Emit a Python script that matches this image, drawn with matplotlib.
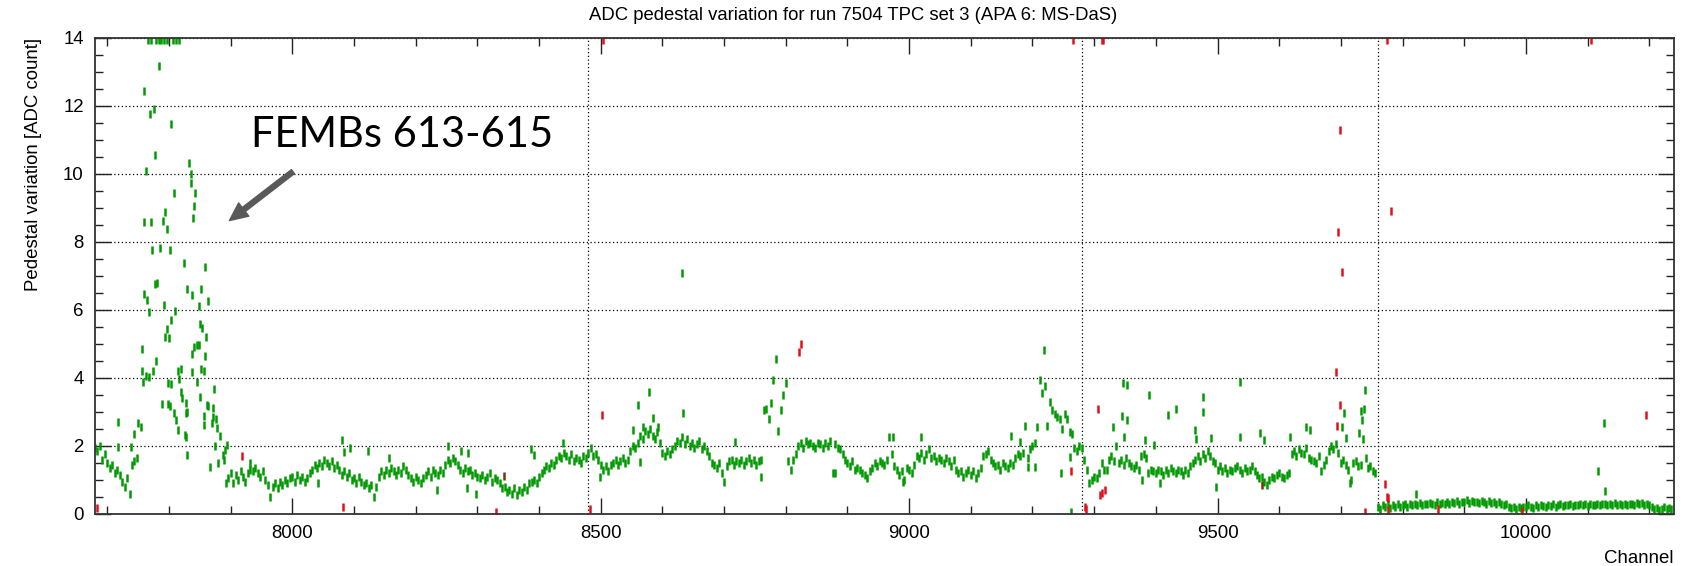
import numpy as np
import matplotlib.pyplot as plt
from matplotlib.ticker import MultipleLocator

# ---- data (pedestal variation per channel) ----
# regular band, one value every 4 channels
band_a_start = 7680
band_a = [1.95, 1.85, 2.0, 1.6, 1.75, 1.5, 1.35, 1.45, 1.2, 1.3,
          1.15, 0.95, 0.8, 1.05, 0.6, 1.45, 1.55, 1.65]

band_b_start = 7896
band_b = [1.05, 1.2, 0.9, 1.15, 1.0, 1.25, 1.1, 0.95, 1.2, 1.3,
          1.25, 1.35, 1.2, 1.1, 1.25, 1.0, 0.85, 0.5, 0.8, 0.9,
          0.75, 0.95, 0.85, 1.0, 0.9, 1.05, 1.1, 0.95, 1.15, 1.0,
          1.1, 0.95, 1.05, 1.2, 1.3, 1.45, 1.35, 1.5, 1.4, 1.6,
          1.5, 1.4, 1.55, 1.35, 1.45, 1.3, 1.15, 1.25, 1.1, 1.2,
          1.0, 1.05, 0.9, 1.1, 0.95, 0.85, 0.9, 0.75, 0.85, 0.5,
          0.8, 1.1, 1.25, 1.15, 1.3, 1.2, 1.35, 1.25, 1.15, 1.3,
          1.2, 1.4, 1.3, 1.15, 1.05, 0.95, 1.1, 1.0, 0.9, 1.05,
          1.15, 1.25, 1.1, 1.3, 1.2, 1.15, 1.3, 1.2, 1.45, 1.6,
          1.5, 1.65, 1.55, 1.45, 1.3, 1.2, 1.35, 1.25, 1.3, 1.15,
          1.2, 1.1, 1.05, 1.15, 1.0, 1.1, 1.2, 0.95, 1.05, 1.0,
          0.9, 0.75, 0.8, 0.65, 0.7, 0.6, 0.75, 0.55, 0.7, 0.65,
          0.8, 0.7, 0.9, 0.95, 1.0, 0.9, 1.1, 1.2, 1.3, 1.4,
          1.35, 1.5, 1.45, 1.6, 1.7, 1.65, 1.8, 1.7, 1.6, 1.75,
          1.55, 1.65, 1.6, 1.5, 1.7, 1.65]

v_start = 8480
v_band = [1.8, 1.95, 1.7, 1.75, 1.6, 1.45, 1.3, 1.4, 1.25, 1.45,
          1.5, 1.6, 1.45, 1.55, 1.65, 1.5, 1.6, 1.85, 2.0, 1.95,
          2.1, 2.3, 2.2, 2.45, 2.35, 2.5, 2.3, 2.2, 2.4, 2.1,
          1.8, 1.7, 1.85, 1.75, 1.9, 2.0, 2.15, 2.1, 2.25, 2.05,
          2.2, 2.0, 2.1, 1.95, 2.05, 2.15, 1.9, 2.0, 1.85, 1.7,
          1.5, 1.45, 1.35, 1.5, 1.2, 0.95, 1.4, 1.55, 1.6, 1.45,
          1.55, 1.5, 1.6, 1.45, 1.55, 1.65, 1.5, 1.6, 1.45, 1.55,
          1.6, 3.05, 3.1, 2.8, 3.25, 3.95, 4.55, 2.45, 3.05, 3.5,
          3.85, 1.55, 1.3, 1.6, 1.75, 2.0, 2.1, 1.95, 2.15, 2.05,
          2.1, 2.0, 1.95, 2.1, 2.05, 1.95, 2.1, 2.0, 2.15, 1.2,
          2.05, 1.95, 1.9, 1.75, 1.6, 1.5, 1.4, 1.55, 1.3, 1.35,
          1.3, 1.2, 1.15, 1.05, 1.25, 1.35, 1.5, 1.4, 1.55, 1.5,
          1.45, 1.6, 2.25, 1.75, 1.4, 1.3, 1.15, 1.25, 1.0, 1.35,
          1.3, 1.2, 1.45, 1.7, 1.65, 1.8, 1.6, 1.75, 1.9, 1.65,
          1.7, 1.55, 1.65, 1.6, 1.5, 1.65, 1.55, 1.4, 1.6, 1.3,
          1.2, 1.25, 1.1, 1.2, 1.3, 1.15, 1.25, 1.05, 1.2, 1.35,
          1.7, 1.75, 1.85, 1.6, 1.5, 1.4, 1.45, 1.3, 1.5, 1.4,
          1.35, 1.5, 1.45, 1.65, 1.75, 1.7, 1.8, 2.6, 1.65, 1.9,
          2.0, 2.1, 2.55, 3.95, 3.55, 3.75, 2.6, 3.3, 3.05, 2.95,
          2.85, 2.8, 2.5, 2.95, 2.8, 2.4, 2.35, 1.95, 1.85, 2.0]

x1_start = 9280
x1_band = [1.95, 1.6, 1.3, 0.9, 1.0, 1.1, 1.05, 1.2, 1.5, 1.3,
           1.3, 1.6, 1.7, 1.55, 2.0, 1.5, 1.6, 1.45, 1.65, 1.5,
           1.4, 1.35, 1.45, 1.3, 1.7, 1.75, 1.65, 1.2, 1.3, 1.25,
           1.2, 1.3, 1.25, 1.15, 1.3, 1.2, 1.35, 1.25, 1.2, 1.3,
           1.25, 1.15, 1.3, 1.2, 1.4, 1.5, 1.6, 1.7, 1.55, 1.75,
           1.65, 1.85, 1.7, 1.55, 1.5, 1.3, 1.4, 1.25, 1.35, 1.2,
           1.3, 1.25, 1.35, 1.4, 1.3, 1.2, 1.35, 1.25, 1.3, 1.4,
           1.25, 1.15, 1.05, 1.1, 0.95, 0.85, 1.0, 1.1, 1.05, 1.15,
           1.2, 1.1, 1.05, 1.15, 1.2, 1.75, 1.85, 1.7, 1.9, 1.8,
           1.75, 1.95, 1.65, 1.6, 1.55, 1.5, 1.7, 1.25, 1.45, 1.6,
           1.85, 2.0, 1.9, 2.05, 1.8, 1.5, 1.6, 1.45, 1.3, 1.0,
           1.5, 1.55, 1.4, 1.45, 2.2, 1.65, 1.35, 1.4, 1.25, 1.2]

x2_start = 9760
x2_band = [0.2, 0.15, 0.25, 0.2, 0.3, 0.18, 0.25, 0.22, 0.28, 0.2,
           0.25, 0.3, 0.22, 0.28, 0.25, 0.3, 0.27, 0.32, 0.25, 0.3,
           0.28, 0.33, 0.3, 0.25, 0.35, 0.3, 0.32, 0.28, 0.36, 0.3,
           0.35, 0.32, 0.38, 0.3, 0.36, 0.34, 0.4, 0.33, 0.37, 0.35,
           0.36, 0.32, 0.38, 0.35, 0.3, 0.37, 0.33, 0.36, 0.3, 0.34,
           0.3, 0.25, 0.28, 0.22, 0.18, 0.2, 0.15, 0.2, 0.17, 0.22,
           0.2, 0.25, 0.22, 0.18, 0.25, 0.2, 0.27, 0.23, 0.2, 0.26,
           0.24, 0.28, 0.22, 0.26, 0.3, 0.24, 0.27, 0.25, 0.29, 0.23,
           0.27, 0.25, 0.3, 0.26, 0.28, 0.24, 0.3, 0.27, 0.25, 0.29,
           0.26, 0.3, 0.28, 0.25, 0.3, 0.27, 0.32, 0.26, 0.29, 0.27,
           0.3, 0.25, 0.28, 0.3, 0.26, 0.31, 0.28, 0.33, 0.27, 0.3,
           0.25, 0.22, 0.15, 0.18, 0.12, 0.16, 0.2, 0.14, 0.17, 0.15]

# noisy FEMBs 613-615 region
femb_ch = [7766, 7771, 7779, 7783, 7787, 7792, 7797, 7806, 7811, 7817,
           7783, 7759, 7776, 7769, 7803, 7778, 7763, 7833, 7835, 7836,
           7842, 7808, 7841, 7794, 7839, 7760, 7771, 7790, 7797, 7773,
           7785, 7801, 7824, 7859,
           7760, 7765, 7767, 7778, 7780, 7792, 7809, 7803, 7796, 7794,
           7800, 7829, 7838, 7852, 7849, 7863, 7851, 7854, 7860, 7841,
           7846, 7848, 7838, 7858, 7756, 7757, 7758, 7763, 7767, 7774,
           7779, 7799, 7804, 7814, 7820, 7817, 7837, 7846, 7852, 7856,
           7873, 7788, 7799, 7802, 7808, 7811, 7815, 7820, 7821, 7827,
           7828, 7830, 7826, 7828, 7829, 7850, 7856, 7857, 7862, 7864,
           7871, 7872, 7869, 7878, 7877, 7882, 7874, 7866, 7880, 7888,
           7889, 7894, 7890, 7892]
femb_val = [13.95, 13.95, 13.95, 13.95, 13.95, 13.95, 13.95, 13.95, 13.95, 13.95,
            13.19, 12.44, 11.9, 11.75, 11.46, 10.56, 10.1, 10.31, 10.0, 9.74,
            9.45, 9.45, 9.06, 8.88, 8.72, 8.59, 8.59, 8.63, 8.37, 7.76,
            7.83, 7.76, 7.37, 7.26,
            6.46, 6.3, 5.94, 6.75, 6.79, 6.14, 5.97, 5.72, 5.45, 5.21,
            5.18, 6.61, 6.43, 6.61, 6.11, 6.26, 5.6, 5.48, 5.21, 4.9,
            4.96, 4.96, 4.7, 4.64, 4.86, 4.21, 3.89, 4.06, 4.02, 4.21,
            4.51, 3.84, 3.82, 4.2, 4.26, 3.96, 4.18, 3.89, 4.26, 4.21,
            3.67, 3.24, 3.24, 3.18, 2.98, 2.77, 2.47, 3.6, 3.4, 3.26,
            2.96, 3.01, 2.33, 2.26, 1.74, 3.43, 2.89, 2.62, 3.21, 3.18,
            3.11, 2.86, 2.67, 2.52, 2.79, 2.3, 2.01, 1.37, 1.5, 1.74,
            1.59, 2.03, 1.87, 0.9]

# isolated green channels
extra_ch = [7717, 7718, 7739, 7744, 7749, 7754, 7932, 8042, 8080, 8083,
            8094, 8123, 8156, 8234, 8253, 8274, 8283, 8284, 8297, 8387,
            8392, 8438, 8499, 8553, 8561, 8563, 8569, 8579, 8585, 8593,
            8632, 8633, 8718, 8760, 8880, 8974, 8990, 9020, 9165, 9180,
            9193, 9204, 9219, 9246, 9261, 9262, 9330, 9345, 9346, 9348,
            9353, 9354, 9377, 9382, 9389, 9397, 9407, 9420, 9433, 9463,
            9465, 9477, 9477, 9490, 9497, 9536, 9536, 9569, 9575, 9617,
            9643, 9650, 9701, 9705, 9709, 9715, 9730, 9732, 9734, 9738,
            9739, 9821, 10117, 10127, 10129]
extra_val = [2.72, 1.96, 1.96, 2.36, 2.67, 2.57, 1.5, 0.91, 2.18, 1.83,
             1.93, 1.85, 1.64, 0.7, 2.0, 1.85, 0.75, 1.78, 0.6, 1.9,
             1.73, 2.1, 1.1, 2.47, 3.2, 1.54, 2.57, 3.6, 2.81, 2.57,
             7.09, 2.98, 2.13, 1.1, 1.2, 2.27, 0.95, 2.27, 2.29, 2.13,
             1.39, 1.39, 4.82, 1.22, 1.69, 0.07, 2.57, 2.88, 3.84, 2.27,
             2.76, 3.79, 1.0, 2.18, 3.5, 2.03, 0.9, 2.9, 3.1, 2.47,
             2.2, 3.45, 3.0, 2.23, 0.8, 3.89, 2.27, 2.37, 2.18, 2.27,
             2.57, 2.47, 2.57, 2.96, 2.23, 0.9, 2.37, 3.04, 2.75, 3.1,
             3.65, 0.6, 1.27, 2.67, 0.69]

# red channels
red_ch = [7684, 7919, 8082, 8330, 8482, 8502, 8504, 8822, 8824, 9263,
          9266, 9285, 9286, 9307, 9309, 9313, 9317, 9312, 9315, 9692,
          9694, 9699, 9696, 9698, 9701, 9739, 9772, 9774, 9777, 9776,
          9775, 9782, 9858, 9994, 10105, 10194]
red_val = [0.17, 1.71, 0.2, 0.07, 0.14, 2.91, 13.95, 4.75, 5.0, 1.25,
           13.95, 0.2, 0.15, 3.1, 0.56, 0.63, 0.71, 13.95, 13.95, 4.17,
           2.59, 3.2, 8.3, 11.29, 7.13, 0.07, 0.88, 0.51, 0.46, 0.12,
           13.95, 8.91, 0.14, 0.09, 13.95, 2.92]

# dark (overlapping) channels
dark_ch = [8343, 9572]
dark_val = [1.12, 0.85]

plane_edges = [8480, 9280, 9760]

# ---- figure ----
plt.rcParams['font.family'] = ['Liberation Sans', 'DejaVu Sans']
fig = plt.figure(figsize=(16.96, 5.66), dpi=100)
ax = fig.add_axes([0.0560, 0.0919, 0.9310, 0.8410])

green = '#009a00'
mk = dict(linestyle='none', marker='|', markersize=6.2, markeredgewidth=1.8)

for start, vals in [(band_a_start, band_a), (band_b_start, band_b),
                    (v_start, v_band), (x1_start, x1_band), (x2_start, x2_band)]:
    ch = start + 4 * np.arange(len(vals))
    ax.plot(ch, vals, color=green, **mk)
ax.plot(femb_ch, femb_val, color=green, **mk)
ax.plot(extra_ch, extra_val, color=green, **mk)
ax.plot(red_ch, red_val, color='#e3101a', **mk)
ax.plot(dark_ch, dark_val, color='#6b3a0a', **mk)

# plane boundaries and grid
for x in plane_edges:
    ax.axvline(x, color='black', lw=0.9, ls=(0, (1, 2)), zorder=0.5)
ax.yaxis.grid(True, color='black', lw=0.9, ls=(0, (1, 2)))
ax.set_axisbelow(True)

ax.set_xlim(7680, 10240)
ax.set_ylim(0, 14)
ax.xaxis.set_major_locator(MultipleLocator(500))
ax.xaxis.set_minor_locator(MultipleLocator(100))
ax.yaxis.set_major_locator(MultipleLocator(2))
ax.yaxis.set_minor_locator(MultipleLocator(0.5))
ax.tick_params(which='both', direction='in', top=True, right=True,
               labelsize=13.4, width=1.0, color='#222222', pad=8)
ax.tick_params(which='major', length=11.5)
ax.tick_params(which='minor', length=5.8)
for s in ax.spines.values():
    s.set_linewidth(1.3)
    s.set_color('#333333')

ax.set_xlabel('Channel', loc='right', fontsize=13.4, labelpad=6)
ax.set_ylabel('Pedestal variation [ADC count]', loc='top', fontsize=13.4, labelpad=15)
fig.text(853 / 1696, 1 - 16 / 566,
         'ADC pedestal variation for run 7504 TPC set 3 (APA 6: MS-DaS)',
         ha='center', va='center', fontsize=13.3)

# annotation
ax.text(7933, 10.8, 'FEMBs 613-615', family=['Lato', 'DejaVu Sans'],
        fontsize=30, ha='left', va='baseline', color='black')
ax.annotate('', xy=(7898, 8.63), xytext=(8001, 10.07),
            arrowprops=dict(width=3.6, headwidth=12, headlength=13,
                            color='#595959', shrink=0))

fig.savefig('out.png', dpi=100)
